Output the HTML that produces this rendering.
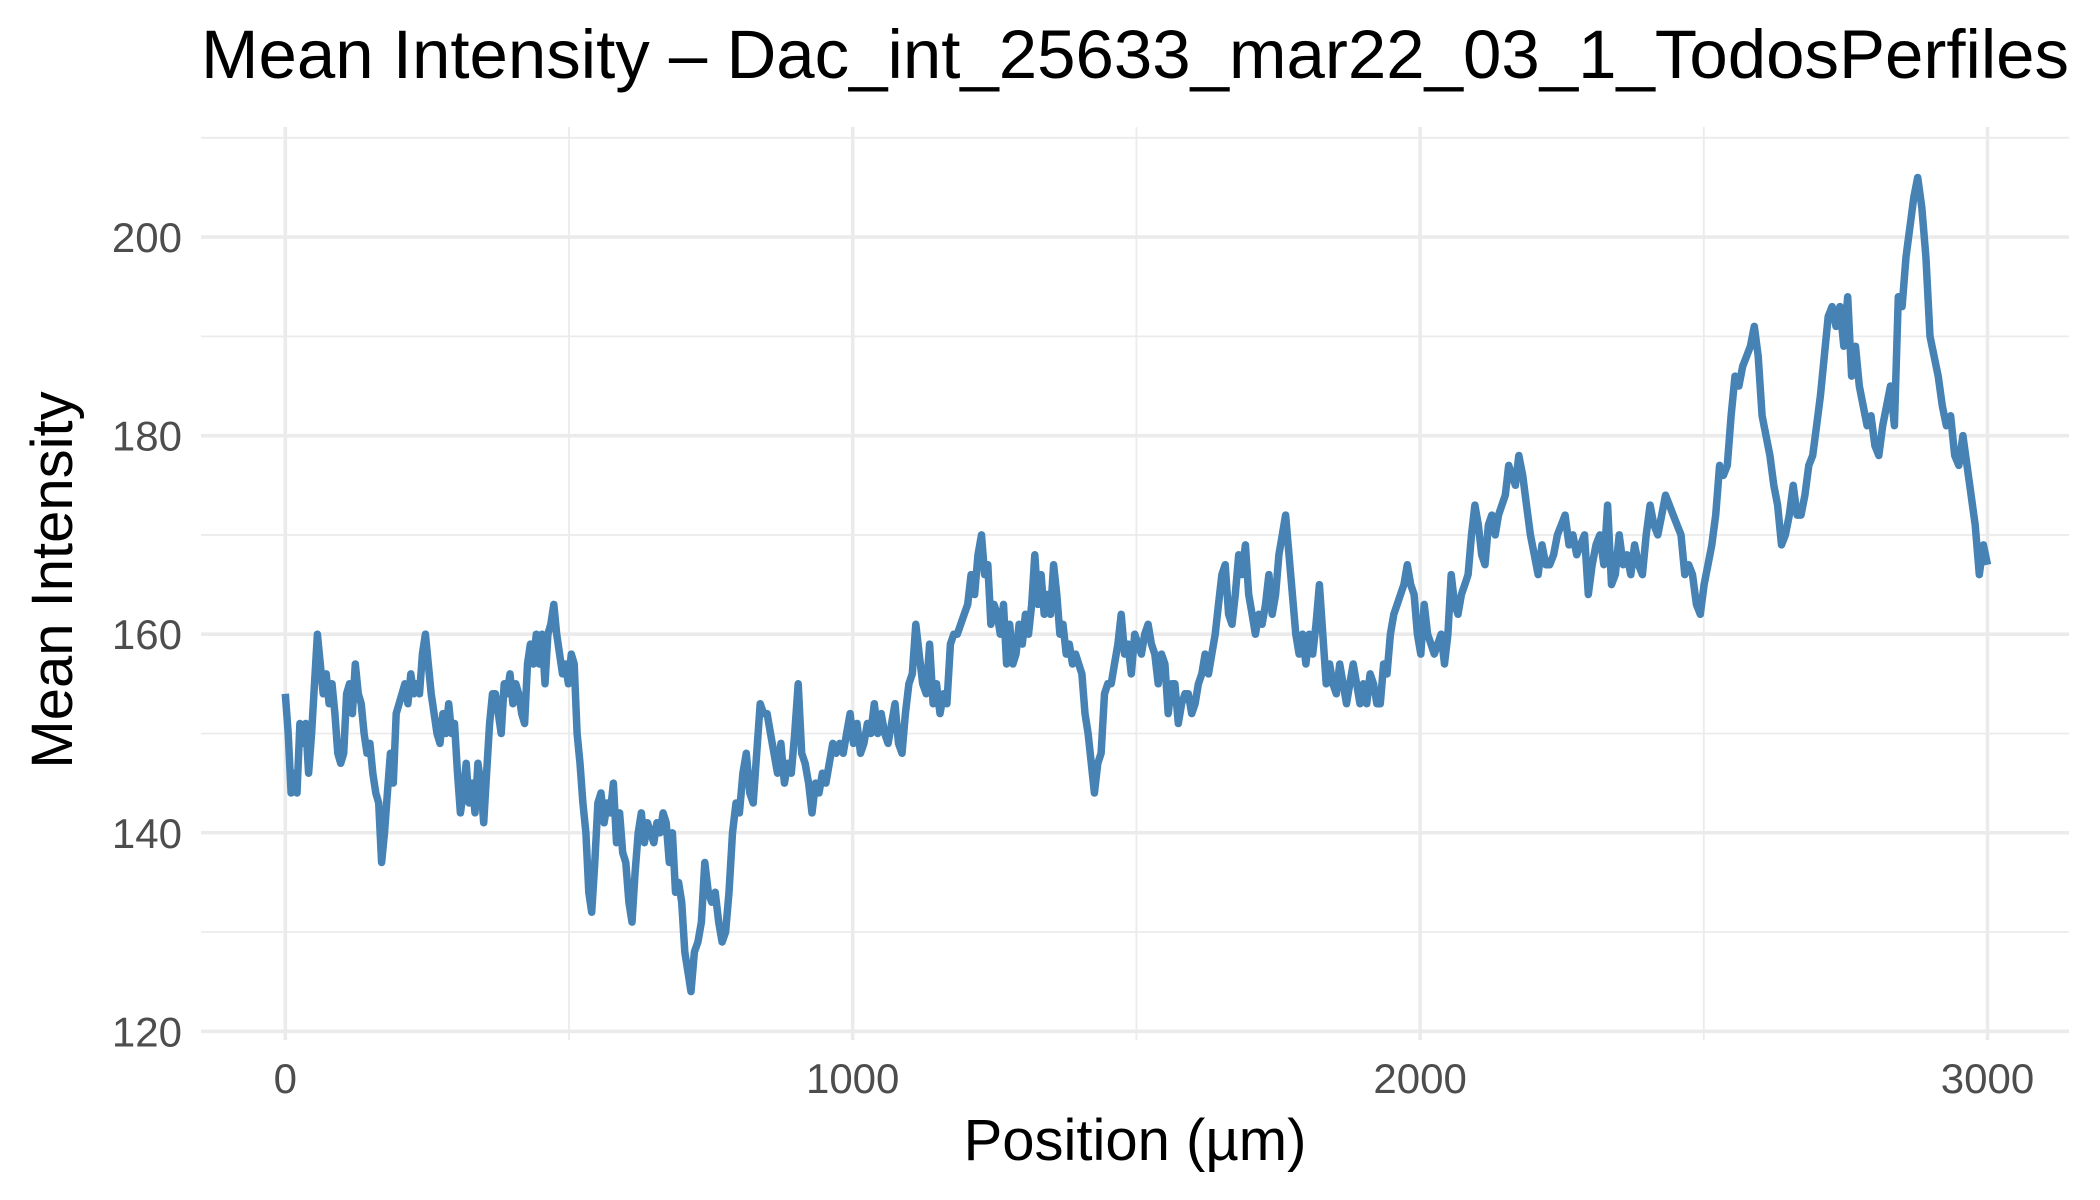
<!DOCTYPE html>
<html><head><meta charset="utf-8"><style>
html,body{margin:0;padding:0;background:#fff;}
svg{display:block;font-family:"Liberation Sans",Arial,sans-serif;}
</style></head><body>
<svg id="chart" width="2100" height="1200" viewBox="0 0 2100 1200">
<rect x="0" y="0" width="2100" height="1200" fill="#fff"/>
<g id="grid"></g>
<g id="series"></g>
<g id="axes"></g>
<text x="201" y="78" font-size="69" fill="#000">Mean Intensity – Dac_int_25633_mar22_03_1_TodosPerfiles</text>
<text x="1135" y="1160" font-size="58" fill="#000" text-anchor="middle">Position (µm)</text>
<text transform="translate(72,580) rotate(-90)" font-size="58" fill="#000" text-anchor="middle">Mean Intensity</text>
</svg>
<script>
const xTicks = [0, 1000, 2000, 3000];
const xMinor = [500, 1500, 2500];
const yTicks = [120, 140, 160, 180, 200];
const yMinor = [130, 150, 170, 190, 210];
const segStart = [0, 540, 715, 1227, 1426, 1763, 2174, 2589, 2877];
const segEnd = [540, 715, 1227, 1426, 1763, 2174, 2589, 2877, 3000];
const segA = [154,150,144,146,144,151,149,151,146,150,155,160,157,154,156,153,155,152,148,147,148,154,155,152,157,154,153,150,148,149,146,144,143,137,140,144,148,145,152,153,154,155,153,156,154,155,154,158,160,157,154,152,150,149,152,150,153,150,151,146,142,144,147,143,145,142,147,145,141,146,151,154,154,152,150,155,154,156,153,155,154,152,151,157,159,157,160,157,160,155,160,161,163,160,158,156,157,155,158,157,150,147,143,140,134];
const segB = [132,137,143,144,141,143,142,145,139,142,138,137,133,131,136,140,142,139,141,140,139,141,140,142,141,137,140,134,135,133,128,126];
const segC = [124,128,129,131,137,134,133,134,131,129,130,134,140,143,142,146,148,144,143,148,153,152,152,150,148,146,149,145,147,146,150,155,148,147,145,142,145,144,146,145,147,149,148,149,148,150,152,149,151,148,149,151,150,153,150,152,150,149,151,153,149,148,152,155,156,161,158,155,154,159,153,155,152,154,153,159,160,160,161,162,163,166,164,168];
const segD = [170,166,167,161,163,162,160,163,157,161,157,158,161,159,162,160,163,168,163,166,162,164,162,167,164,160,161,158,159,157,158,157,156,152,150,147];
const segE = [144,147,148,154,155,155,157,159,162,158,159,156,160,159,158,160,161,159,158,155,158,157,152,155,155,151,153,154,154,152,153,155,156,158,156,158,160,163,166,167,162,161,164,168,166,169,164,162,160,162,161,163,166,162,164,168,170];
const segF = [172,168,164,160,158,160,157,160,158,161,165,160,155,157,155,154,157,155,153,155,157,155,153,155,153,156,155,153,153,157,156,160,162,163,164,165,167,165,164,160,158,163,160,159,158,159,160,157,160,166,163,162,164,165,166,170,173,171,168,167,171,172,170,172,173,174,177,176,175];
const segG = [178,176,173,170,168,166,169,167,167,168,170,171,172,169,170,168,169,170,164,167,169,170,167,173,165,166,170,167,168,166,169,167,166,170,173,171,170,172,174,173,172,171,170,166,167,166,163,162,165,167,169,172,177,176,177,182,186,185,187,188,189];
const segH = [191,188,182,180,178,175,173,169,170,172,175,172,172,174,177,178,181,184,188,192,193,191,193,189,194,186,189,185,183,181,182,179,178,181,183,185,181,194,193,198,201,204];
const segI = [206,203,198,190,188,186,183,181,182,178,177,180,177,174,171,166,169,167];
const segVals = [segA, segB, segC, segD, segE, segF, segG, segH, segI];

const NS = "http://www.w3.org/2000/svg";
const PL = 201, PR = 2069, PT = 127, PB = 1040;
const X0 = 285.3, X1 = 1987.5;
const Y0 = 1031.3, Y1 = 237.1;
function sx(v){ return X0 + (v - 0) / 3000 * (X1 - X0); }
function sy(v){ return Y0 + (v - 120) / 80 * (Y1 - Y0); }
function mk(tag, attrs, parent){ const e = document.createElementNS(NS, tag); for (const k in attrs) e.setAttribute(k, attrs[k]); parent.appendChild(e); return e; }

const grid = document.getElementById('grid');
yMinor.forEach(v => {
  const l = mk('line', {x1: PL, x2: PR, y1: sy(v), y2: sy(v), stroke: '#ebebeb', 'stroke-width': 1.8}, grid);
  
  
});
xMinor.forEach(v => {
  const l = mk('line', {x1: sx(v), x2: sx(v), y1: PT, y2: PB, stroke: '#ebebeb', 'stroke-width': 1.8}, grid);
  
  
});
yTicks.forEach(v => {
  const l = mk('line', {x1: PL, x2: PR, y1: sy(v), y2: sy(v), stroke: '#ebebeb', 'stroke-width': 3.6}, grid);
  
  
});
xTicks.forEach(v => {
  const l = mk('line', {x1: sx(v), x2: sx(v), y1: PT, y2: PB, stroke: '#ebebeb', 'stroke-width': 3.6}, grid);
  
  
});

const axes = document.getElementById('axes');
yTicks.forEach(v => {
  const t = mk('text', {x: 182, y: sy(v) + 15, 'font-size': 42, fill: '#4d4d4d', 'text-anchor': 'end'}, axes);
  t.textContent = String(v);
  
  
});
xTicks.forEach(v => {
  const t = mk('text', {x: sx(v), y: 1093, 'font-size': 42, fill: '#4d4d4d', 'text-anchor': 'middle'}, axes);
  t.textContent = String(v);
  
  
});

const pts = [];
segVals.forEach((vals, i) => {
  const last = i === segVals.length - 1;
  const n = last ? vals.length - 1 : vals.length;
  vals.forEach((v, j) => {
    const x = segStart[i] + (segEnd[i] - segStart[i]) * j / n;
    pts.push(sx(x).toFixed(1) + ',' + sy(v).toFixed(1));
  });
});
const line = mk('polyline', {points: pts.join(' '), fill: 'none', stroke: '#4682b4', 'stroke-width': 7.5, 'stroke-linejoin': 'round', 'stroke-linecap': 'butt'}, document.getElementById('series'));


</script>
</body></html>
